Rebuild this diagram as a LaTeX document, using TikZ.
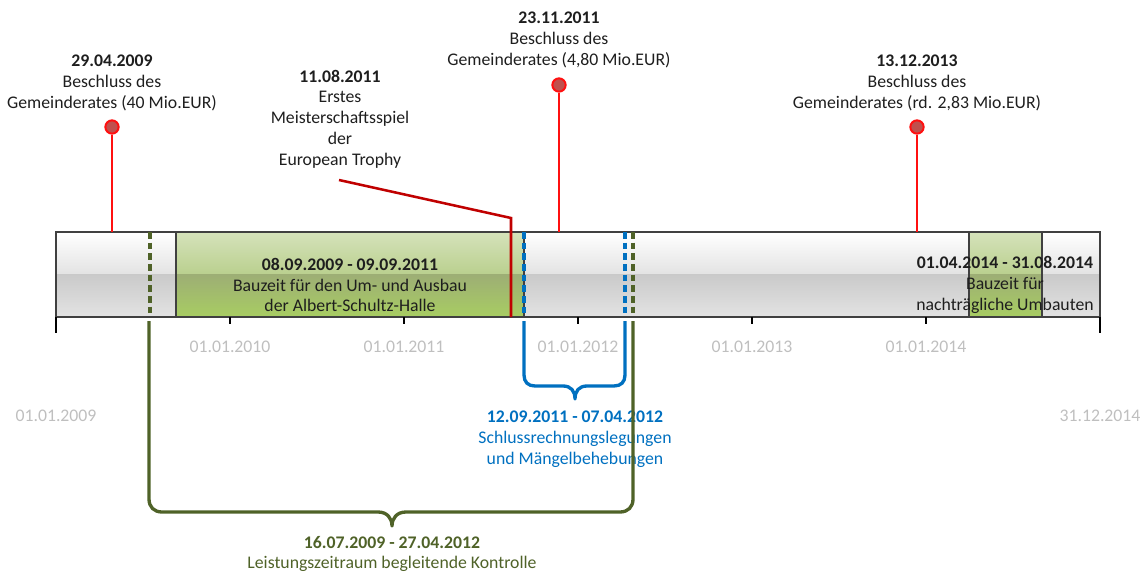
\documentclass[tikz,border=0pt]{standalone}
\usepackage{fontspec}
\setmainfont{Carlito}
\definecolor{txtcol}{HTML}{1E1E1E}
\definecolor{datecol}{HTML}{BFBFBF}
\definecolor{pinred}{HTML}{FF1010}
\definecolor{pinfill}{HTML}{C0504D}
\definecolor{eventred}{HTML}{C00000}
\definecolor{schlussblue}{HTML}{0070C0}
\definecolor{kontrgreen}{HTML}{4F6228}
\definecolor{barframe}{HTML}{404040}
\begin{document}
\begin{tikzpicture}[x=0.75pt,y=-0.75pt]
	\useasboundingbox (0,0) rectangle (1145,574);
	\tikzstyle lbl=[align=center,inner sep=0pt,text=txtcol,font=\fontsize{13.3}{15.6}\selectfont]
	\tikzstyle datelbl=[lbl,text=datecol]
	\tikzstyle pindot=[circle,draw=pinred,fill=pinfill,line width=1.5pt,minimum size=10pt,inner sep=0pt]
	\tikzstyle pinline=[pinred,line width=1.9pt]
	\tikzstyle dashmark=[line width=2.6pt,dash pattern=on 5pt off 3pt]
	\tikzstyle bracket=[line width=2.5pt,line join=round]

	% bar
	\shade[top color=white,bottom color=black!11] (56,232) rectangle (1100,274);
	\shade[top color=black!21,bottom color=black!11] (56,274) rectangle (1100,317);
	% construction periods
	\shade[top color={rgb,255:red,213;green,226;blue,186},bottom color={rgb,255:red,186;green,208;blue,143}] (176,232) rectangle (524,274);
	\shade[top color={rgb,255:red,157;green,174;blue,117},bottom color={rgb,255:red,168;green,205;blue,98}] (176,274) rectangle (524,317);
	\shade[top color={rgb,255:red,213;green,226;blue,186},bottom color={rgb,255:red,186;green,208;blue,143}] (969,232) rectangle (1042,274);
	\shade[top color={rgb,255:red,157;green,174;blue,117},bottom color={rgb,255:red,168;green,205;blue,98}] (969,274) rectangle (1042,317);
	\draw[barframe,line width=1.3pt] (176,232) -- (176,317) (524,232) -- (524,317) (969,232) -- (969,317) (1042,232) -- (1042,317);
	\draw[barframe,line width=1.3pt] (56,232) rectangle (1100,317);

	\node (bau1)[lbl] at (350,285) {\textbf{08.09.2009 - 09.09.2011}\\Bauzeit für den Um- und Ausbau\\der Albert-Schultz-Halle};
	\node (bau2)[lbl] at (1005,285) {\textbf{01.04.2014 - 31.08.2014}\\Bauzeit für\\nachträgliche Umbauten};

	% axis
	\draw[black,line width=1.3pt] (56,317) -- (56,333) (1100,317) -- (1100,333);
	\foreach \x/\yr in {230/2010,404/2011,578/2012,752/2013,926/2014}{
		\draw[black,line width=1.3pt] (\x,317) -- (\x,324);
		\node (d\yr)[datelbl] at (\x,347) {01.01.\yr};
	}
	\node (start)[datelbl] at (56,416) {01.01.2009};
	\node (end)[datelbl] at (1100,416) {31.12.2014};

	% periods below the bar
	\draw[kontrgreen,dashmark] (150,232) -- (150,317);
	\draw[kontrgreen,dashmark] (633,232) -- (633,317);
	\draw[schlussblue,dashmark] (524,232) -- (524,317);
	\draw[schlussblue,dashmark] (625,232) -- (625,317);

	\draw[schlussblue,bracket] (524,321) -- (524,375) .. controls (524,382) and (528,386) .. (535,386) -- (563,386)
		.. controls (571,386) and (575,391) .. (575,399) .. controls (575,391) and (579,386) .. (587,386) -- (614,386)
		.. controls (621,386) and (625,382) .. (625,375) -- (625,321);
	\node (schluss)[lbl,text=schlussblue] at (575,439) {\textbf{12.09.2011 - 07.04.2012}\\Schlussrechnungslegungen\\und Mängelbehebungen};

	\draw[kontrgreen,bracket] (149,321) -- (149,499) .. controls (149,507) and (154,512) .. (162,512) -- (378,512)
		.. controls (387,512) and (392,518) .. (392,526) .. controls (392,518) and (397,512) .. (406,512) -- (620,512)
		.. controls (628,512) and (633,507) .. (633,499) -- (633,321);
	\node (kontr)[lbl,text=kontrgreen] at (392,554) {\textbf{16.07.2009 - 27.04.2012}\\Leistungszeitraum begleitende Kontrolle};

	% decisions
	\node (p1)[pindot] at (112,127) {};
	\node (p2)[pindot] at (559,85) {};
	\node (p3)[pindot] at (917,127) {};
	\coordinate (q1) at (112,232);
	\coordinate (q2) at (559,232);
	\coordinate (q3) at (917,232);
	\draw[pinline] (p1) -- (q1);
	\draw[pinline] (p2) -- (q2);
	\draw[pinline] (p3) -- (q3);
	\node (g1)[lbl] at (112,83) {\textbf{29.04.2009}\\Beschluss des\\Gemeinderates (40 Mio.EUR)};
	\node (g2)[lbl] at (559,40) {\textbf{23.11.2011}\\Beschluss des\\Gemeinderates (4,80 Mio.EUR)};
	\node (g3)[lbl] at (917,83) {\textbf{13.12.2013}\\Beschluss des\\Gemeinderates (rd. 2,83 Mio.EUR)};

	% first match
	\node (spiel)[lbl] at (340,119) {\textbf{11.08.2011}\\Erstes\\Meisterschaftsspiel\\der\\European Trophy};
	\coordinate (s0) at (339,180);
	\coordinate (s1) at (511,218);
	\coordinate (s2) at (511,317);
	\draw[eventred,line width=1.9pt] (s0) -- (s1) -- (s2);
\end{tikzpicture}
\end{document}
